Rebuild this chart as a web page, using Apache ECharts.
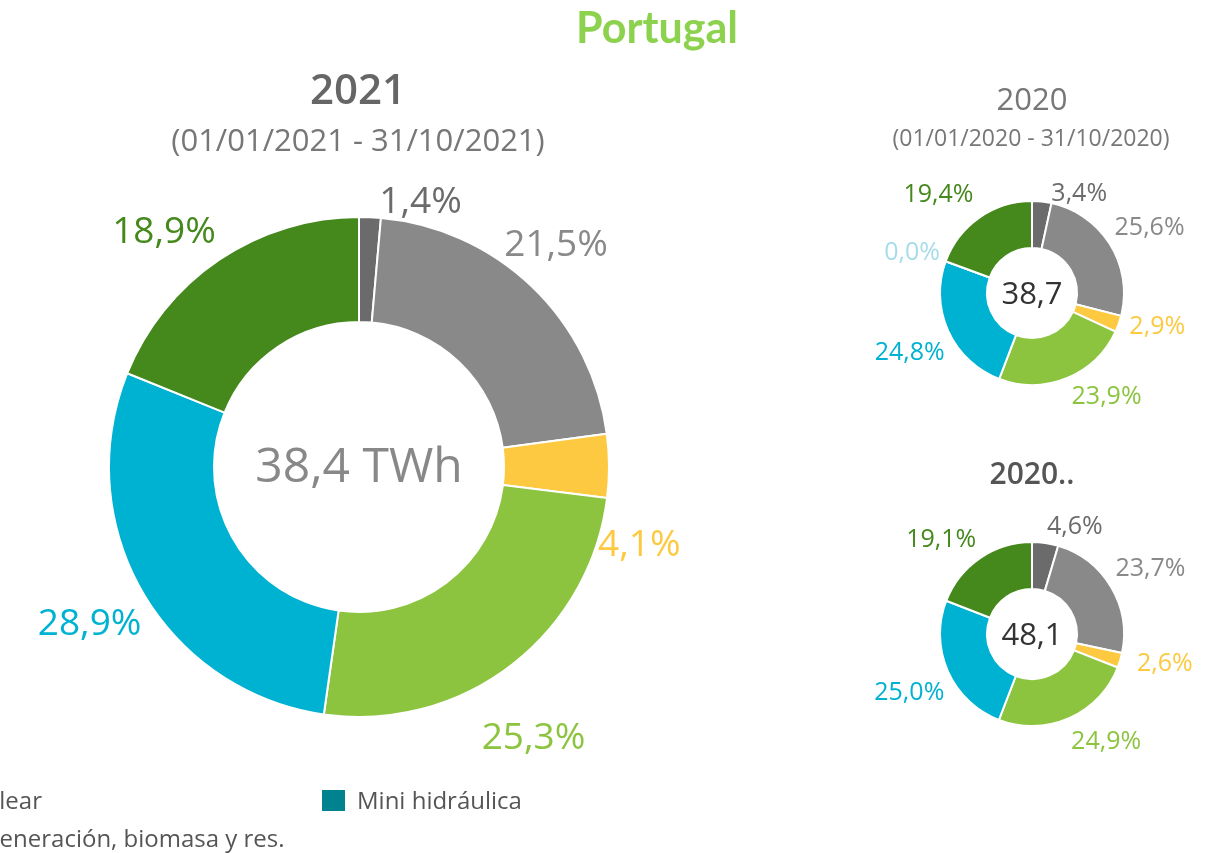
<!DOCTYPE html>
<html>
<head>
<meta charset="utf-8">
<script src="https://cdn.jsdelivr.net/npm/echarts@6/dist/echarts.min.js"></script>
<style>
html,body{margin:0;padding:0;background:#fff;}
#chart{width:1220px;height:853px;}
</style>
</head>
<body>
<div id="chart"></div>
<script>
// ---- data ----
var categories = ['Nuclear', 'Solar', 'Hidráulica bombeo', 'Eólica', 'Hidráulica', 'Mini hidráulica', 'Cogeneración, biomasa y res.'];
var values2021 = [1.4, 21.5, 4.1, 25.3, 28.9, null, 18.9];
var values2020 = [3.4, 25.6, 2.9, 23.9, 24.8, 0.0, 19.4];
var values2020b = [4.6, 23.7, 2.6, 24.9, 25.0, null, 19.1];
var totals = ['38,4 TWh', '38,7', '48,1'];
var chartTitles = ['2021', '2020', '2020..'];
var chartSubtitles = ['(01/01/2021 - 31/10/2021)', '(01/01/2020 - 31/10/2020)'];
var mainTitle = 'Portugal';
var sliceColors = ['#6b6b6b', '#898989', '#fcc940', '#8cc43f', '#00b2d2', '#a6dcea', '#45881c'];
var labelColors = ['#6b6b6b', '#898989', '#fcc940', '#8cc43f', '#00b2d2', '#a6dcea', '#45881c'];

// ---- layout ----
var centers = [[359, 467], [1032, 293], [1032, 634]];
// small text-label nudges [dx, dy] per category (labels only, the slices come from the data)
var labelNudges = [
  [[6, 14], [-36, -15], [-22, 100], [-37, 46], [9, 8], [0, 0], [4, 0]],
  [[6, 11], [-3, 0], [3, -12], [0, 0], [4, 6], [2, 7], [0, -5]],
  [[-2, 3], [-3, -2], [9, -12], [-3, 5], [4, 6], [0, 0], [2, 0]]
];
var FONT = '"Open Sans", "Noto Sans", sans-serif';

function fmt(v) { return v.toFixed(1).replace('.', ',') + '%'; }

function buildData(vals) {
  var out = [];
  for (var i = 0; i < vals.length; i++) {
    if (vals[i] === null) continue;
    out.push({
      name: categories[i],
      value: vals[i],
      catIndex: i,
      itemStyle: { color: sliceColors[i] },
      label: { color: labelColors[i] }
    });
  }
  return out;
}

var seriesData = [buildData(values2021), buildData(values2020), buildData(values2020b)];

function layoutFn(params) {
  var p = params.labelLinePoints;
  if (!p) return {};
  var end = p[p.length - 1];
  var c = centers[params.seriesIndex];
  var right = end[0] >= c[0];
  var top = end[1] < c[1];
  var cat = seriesData[params.seriesIndex][params.dataIndex].catIndex;
  var n = labelNudges[params.seriesIndex][cat];
  return {
    x: end[0] + (right ? 3 : -3) + n[0],
    y: end[1] + n[1],
    align: right ? 'left' : 'right',
    verticalAlign: top ? 'bottom' : 'top'
  };
}

function pie(idx, radius, fontSize, len) {
  return {
    type: 'pie',
    center: centers[idx],
    radius: radius,
    startAngle: 90,
    clockwise: true,
    avoidLabelOverlap: false,
    stillShowZeroSum: true,
    minShowLabelAngle: 0,
    silent: true,
    animation: false,
    itemStyle: { borderColor: '#ffffff', borderWidth: 2 },
    label: {
      show: true,
      position: 'outside',
      fontFamily: FONT,
      fontSize: fontSize,
      lineHeight: fontSize * 1.1,
      formatter: function (p) { return fmt(p.value); }
    },
    labelLine: { show: true, length: len, length2: 0, lineStyle: { opacity: 0, width: 0 } },
    labelLayout: layoutFn,
    data: seriesData[idx]
  };
}

function txt(s, x, y, font, fill, align) {
  return { type: 'text', x: x, y: y, silent: true,
    style: { text: s, fill: fill, font: font, textAlign: align || 'center', textVerticalAlign: 'middle' } };
}

var chart = echarts.init(document.getElementById('chart'), null, { renderer: 'canvas' });
chart.setOption({
  backgroundColor: '#ffffff',
  animation: false,
  series: [
    pie(0, [145, 250], 37, 8),
    pie(1, [45, 92], 25, 5),
    pie(2, [45, 92], 25, 5)
  ],
  graphic: [
    txt(mainTitle, 657, 29, 'bold 43px Lato, sans-serif', '#8cd24e'),
    txt(chartTitles[0], 358, 92, '600 42px ' + FONT, '#666666'),
    txt(chartSubtitles[0], 358, 142, '31px ' + FONT, '#777777'),
    txt(chartTitles[1], 1032, 101, '31px ' + FONT, '#777777'),
    txt(chartSubtitles[1], 1031, 139, '23px ' + FONT, '#777777'),
    txt(chartTitles[2], 1032, 475, '600 30px ' + FONT, '#555555'),
    txt(totals[0], centers[0][0], centers[0][1] + 1, '48px ' + FONT, '#888888'),
    txt(totals[1], centers[1][0], centers[1][1] + 2, '31px ' + FONT, '#333333'),
    txt(totals[2], centers[2][0], centers[2][1] + 2, '31px ' + FONT, '#333333'),
    // legend (partially cut off at the left edge, as in the source)
    txt(categories[0], -45, 802, '24px ' + FONT, '#555555', 'left'),
    { type: 'rect', shape: { x: 322, y: 790, width: 23, height: 21 }, silent: true, style: { fill: '#00838f' } },
    txt(categories[5], 357, 802, '24px ' + FONT, '#555555', 'left'),
    txt(categories[6], -43, 840, '24px ' + FONT, '#555555', 'left')
  ]
});
</script>
</body>
</html>
